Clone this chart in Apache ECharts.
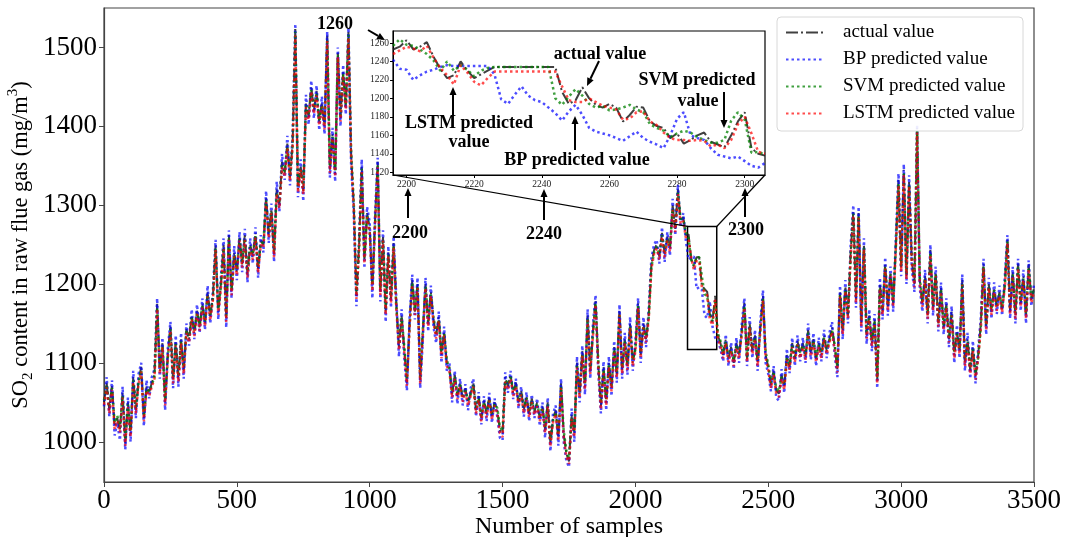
<!DOCTYPE html>
<html>
<head>
<meta charset="utf-8">
<script src="https://cdn.jsdelivr.net/npm/echarts@6/dist/echarts.min.js"></script>
<style>
  html, body { margin: 0; padding: 0; background: #fff; }
  #chart { width: 1067px; height: 537px; }
</style>
</head>
<body>
<div id="chart"></div>
<script>
// main chart: one value every 10 samples, 0..3500 (one row = 100 samples)
const sampleStep = 10;
const actualValue = [
  1050, 1075, 1040, 1072, 1020, 1030, 1015, 1062, 998, 1050,
  1010, 1082, 1040, 1078, 1095, 1030, 1070, 1062, 1075, 1085,
  1175, 1090, 1125, 1050, 1110, 1147, 1078, 1128, 1080, 1130,
  1090, 1143, 1130, 1160, 1138, 1167, 1145, 1175, 1150, 1190,
  1158, 1185, 1249, 1165, 1200, 1250, 1156, 1262, 1190, 1240,
  1215, 1260, 1225, 1262, 1212, 1250, 1235, 1265, 1218, 1255,
  1250, 1310, 1262, 1295, 1238, 1320, 1300, 1355, 1340, 1378,
  1335, 1380, 1525, 1320, 1350, 1318, 1430, 1412, 1450, 1420,
  1445, 1405, 1430, 1400, 1515, 1345, 1390, 1340, 1495, 1410,
  1470, 1425, 1520, 1365, 1300, 1185, 1250, 1350, 1230, 1290,
  1270, 1195, 1280, 1355, 1190, 1260, 1165, 1240, 1180, 1252,
  1175, 1120, 1160, 1118, 1075, 1150, 1205, 1165, 1200, 1078,
  1140, 1200, 1150, 1190, 1155, 1135, 1158, 1110, 1140, 1100,
  1095, 1060, 1085, 1058, 1075, 1055, 1068, 1050, 1062, 1075,
  1040, 1058, 1030, 1052, 1035, 1057, 1032, 1050, 1040, 1015,
  1010, 1082, 1070, 1085, 1062, 1075, 1050, 1065, 1040, 1058,
  1035, 1055, 1038, 1050, 1030, 1045, 1015, 1050, 998, 1030,
  1040, 1005, 1074, 1010, 985, 975, 1035, 1010, 1100, 1060,
  1115, 1070, 1160, 1090, 1140, 1180, 1100, 1045, 1095, 1050,
  1100, 1068, 1120, 1085, 1167, 1090, 1130, 1095, 1150, 1100,
  1120, 1176, 1110, 1150, 1130, 1160, 1225, 1243, 1250, 1235,
  1265, 1238, 1260, 1245, 1300, 1270, 1320, 1280, 1285, 1262,
  1263, 1232, 1222, 1234, 1234, 1198, 1194, 1190, 1162, 1153,
  1185, 1135, 1125, 1110, 1130, 1105, 1120, 1100, 1125, 1110,
  1140, 1176, 1105, 1150, 1115, 1135, 1100, 1145, 1185, 1110,
  1095, 1072, 1090, 1065, 1061, 1085, 1070, 1110, 1095, 1125,
  1105, 1128, 1110, 1125, 1108, 1142, 1112, 1130, 1105, 1125,
  1110, 1135, 1115, 1130, 1145, 1120, 1092, 1190, 1140, 1197,
  1160, 1240, 1293, 1180, 1290, 1150, 1250, 1135, 1160, 1125,
  1155, 1078, 1200, 1165, 1226, 1170, 1215, 1175, 1250, 1332,
  1220, 1345, 1210, 1330, 1230, 1200, 1398, 1205, 1175, 1210,
  1160, 1243, 1170, 1215, 1150, 1195, 1145, 1175, 1130, 1165,
  1110, 1140, 1115, 1205, 1100, 1130, 1090, 1120, 1083, 1110,
  1150, 1226, 1145, 1200, 1165, 1195, 1170, 1190, 1168, 1200,
  1258, 1165, 1215, 1160, 1226, 1175, 1210, 1160, 1225, 1180,
  1195
];
const bpValue = [
  1045, 1082, 1032, 1078, 1008, 1024, 1002, 1070, 990, 1056,
  1000, 1090, 1030, 1086, 1100, 1020, 1078, 1055, 1082, 1092,
  1182, 1080, 1132, 1040, 1118, 1152, 1068, 1135, 1070, 1138,
  1080, 1150, 1122, 1168, 1130, 1174, 1138, 1182, 1142, 1198,
  1150, 1192, 1256, 1155, 1208, 1258, 1145, 1268, 1182, 1248,
  1205, 1266, 1215, 1270, 1202, 1258, 1226, 1272, 1208, 1262,
  1240, 1318, 1252, 1302, 1228, 1330, 1292, 1365, 1332, 1388,
  1325, 1392, 1530, 1310, 1358, 1305, 1440, 1402, 1458, 1410,
  1452, 1395, 1438, 1390, 1520, 1335, 1398, 1330, 1500, 1400,
  1478, 1415, 1525, 1352, 1290, 1172, 1258, 1358, 1220, 1298,
  1278, 1182, 1288, 1360, 1178, 1268, 1152, 1248, 1170, 1260,
  1182, 1108, 1168, 1106, 1065, 1158, 1212, 1155, 1208, 1068,
  1130, 1208, 1140, 1198, 1146, 1125, 1165, 1100, 1146, 1090,
  1100, 1050, 1090, 1048, 1080, 1046, 1073, 1040, 1068, 1080,
  1032, 1063, 1022, 1058, 1026, 1062, 1024, 1055, 1032, 1005,
  1002, 1088, 1062, 1090, 1054, 1080, 1042, 1070, 1032, 1063,
  1026, 1060, 1030, 1055, 1020, 1050, 1005, 1056, 988, 1036,
  1046, 995, 1080, 1000, 976, 968, 1042, 1000, 1108, 1050,
  1122, 1060, 1168, 1080, 1148, 1186, 1090, 1036, 1102, 1040,
  1108, 1058, 1128, 1075, 1174, 1080, 1138, 1085, 1158, 1090,
  1128, 1182, 1100, 1158, 1120, 1168, 1232, 1250, 1256, 1226,
  1272, 1228, 1266, 1236, 1308, 1262, 1326, 1272, 1290, 1254,
  1231, 1234, 1235, 1194, 1196, 1193, 1160, 1157, 1178, 1146,
  1132, 1128, 1118, 1102, 1136, 1096, 1126, 1092, 1132, 1100,
  1148, 1182, 1096, 1158, 1106, 1142, 1090, 1152, 1192, 1100,
  1086, 1064, 1096, 1056, 1052, 1092, 1062, 1118, 1087, 1132,
  1096, 1135, 1102, 1132, 1100, 1150, 1104, 1138, 1096, 1132,
  1102, 1142, 1106, 1138, 1152, 1110, 1082, 1198, 1130, 1205,
  1150, 1250, 1300, 1170, 1298, 1140, 1258, 1124, 1168, 1115,
  1162, 1068, 1208, 1155, 1234, 1160, 1222, 1165, 1258, 1340,
  1210, 1352, 1200, 1338, 1220, 1190, 1402, 1195, 1165, 1218,
  1150, 1250, 1160, 1222, 1140, 1202, 1136, 1182, 1120, 1172,
  1100, 1148, 1106, 1212, 1090, 1138, 1080, 1128, 1074, 1118,
  1158, 1232, 1136, 1208, 1156, 1202, 1162, 1198, 1160, 1208,
  1262, 1156, 1222, 1150, 1232, 1166, 1218, 1150, 1230, 1172,
  1200
];
const svmValue = [
  1053, 1072, 1044, 1068, 1024, 1033, 1018, 1058, 1003, 1047,
  1014, 1078, 1044, 1075, 1091, 1034, 1067, 1064, 1072, 1082,
  1170, 1093, 1121, 1054, 1107, 1143, 1082, 1124, 1084, 1127,
  1094, 1140, 1133, 1157, 1141, 1163, 1148, 1172, 1153, 1186,
  1161, 1182, 1245, 1168, 1197, 1246, 1160, 1258, 1193, 1237,
  1218, 1257, 1228, 1258, 1216, 1247, 1238, 1261, 1222, 1252,
  1253, 1306, 1265, 1292, 1242, 1316, 1303, 1350, 1343, 1374,
  1338, 1376, 1520, 1324, 1347, 1322, 1426, 1415, 1446, 1423,
  1441, 1408, 1427, 1403, 1510, 1349, 1387, 1344, 1490, 1413,
  1466, 1428, 1516, 1369, 1304, 1190, 1246, 1346, 1234, 1287,
  1267, 1199, 1276, 1350, 1194, 1257, 1169, 1237, 1184, 1248,
  1172, 1124, 1157, 1121, 1080, 1147, 1201, 1168, 1197, 1082,
  1143, 1197, 1153, 1187, 1158, 1138, 1155, 1114, 1137, 1104,
  1092, 1063, 1082, 1061, 1072, 1058, 1065, 1053, 1060, 1072,
  1043, 1055, 1033, 1050, 1038, 1054, 1035, 1048, 1043, 1019,
  1014, 1078, 1073, 1082, 1065, 1072, 1053, 1062, 1044, 1055,
  1038, 1052, 1041, 1047, 1034, 1043, 1019, 1047, 1002, 1027,
  1037, 1009, 1070, 1014, 989, 980, 1031, 1014, 1096, 1063,
  1111, 1074, 1156, 1094, 1136, 1176, 1104, 1049, 1091, 1054,
  1097, 1071, 1117, 1088, 1163, 1094, 1127, 1098, 1146, 1104,
  1117, 1172, 1113, 1147, 1133, 1157, 1221, 1240, 1247, 1238,
  1262, 1241, 1257, 1248, 1296, 1273, 1316, 1283, 1282, 1265,
  1258, 1230, 1224, 1234, 1234, 1210, 1187, 1185, 1162, 1152,
  1177, 1138, 1128, 1113, 1127, 1108, 1117, 1104, 1121, 1113,
  1137, 1172, 1108, 1147, 1118, 1132, 1104, 1142, 1181, 1114,
  1098, 1075, 1087, 1068, 1064, 1082, 1073, 1106, 1098, 1122,
  1108, 1125, 1113, 1122, 1111, 1138, 1115, 1127, 1108, 1122,
  1113, 1132, 1118, 1127, 1141, 1123, 1096, 1186, 1143, 1193,
  1163, 1236, 1289, 1184, 1286, 1154, 1246, 1139, 1157, 1129,
  1152, 1082, 1196, 1168, 1222, 1173, 1212, 1178, 1246, 1327,
  1223, 1340, 1213, 1326, 1233, 1204, 1394, 1208, 1178, 1207,
  1163, 1239, 1173, 1212, 1153, 1192, 1148, 1172, 1133, 1162,
  1113, 1137, 1118, 1201, 1104, 1127, 1094, 1117, 1087, 1107,
  1147, 1222, 1148, 1197, 1168, 1192, 1173, 1187, 1171, 1197,
  1254, 1168, 1212, 1163, 1222, 1178, 1207, 1163, 1221, 1183,
  1193
];
const lstmValue = [
  1047, 1069, 1036, 1066, 1016, 1026, 1012, 1056, 995, 1044,
  1006, 1076, 1036, 1073, 1089, 1026, 1065, 1058, 1070, 1080,
  1168, 1086, 1120, 1046, 1105, 1141, 1074, 1122, 1076, 1125,
  1086, 1138, 1126, 1155, 1134, 1162, 1141, 1170, 1146, 1184,
  1154, 1180, 1243, 1161, 1195, 1244, 1152, 1256, 1186, 1235,
  1211, 1255, 1221, 1256, 1208, 1245, 1231, 1259, 1214, 1250,
  1246, 1304, 1258, 1290, 1234, 1314, 1296, 1348, 1336, 1372,
  1331, 1374, 1515, 1316, 1345, 1314, 1424, 1408, 1444, 1416,
  1439, 1401, 1425, 1396, 1508, 1341, 1385, 1336, 1488, 1406,
  1464, 1421, 1512, 1361, 1296, 1181, 1244, 1344, 1226, 1285,
  1265, 1191, 1274, 1348, 1186, 1255, 1161, 1235, 1176, 1246,
  1170, 1116, 1155, 1114, 1071, 1145, 1199, 1161, 1195, 1074,
  1136, 1195, 1146, 1185, 1151, 1131, 1153, 1106, 1135, 1096,
  1090, 1056, 1080, 1054, 1070, 1051, 1063, 1046, 1058, 1070,
  1036, 1053, 1026, 1048, 1031, 1052, 1028, 1046, 1036, 1011,
  1006, 1076, 1066, 1080, 1058, 1070, 1046, 1060, 1036, 1053,
  1031, 1050, 1034, 1045, 1026, 1041, 1011, 1045, 994, 1025,
  1035, 1001, 1068, 1006, 981, 972, 1029, 1006, 1094, 1056,
  1109, 1066, 1154, 1086, 1134, 1174, 1096, 1041, 1089, 1046,
  1095, 1064, 1115, 1081, 1161, 1086, 1125, 1091, 1144, 1096,
  1115, 1170, 1106, 1145, 1126, 1155, 1219, 1238, 1245, 1231,
  1260, 1234, 1255, 1241, 1294, 1266, 1314, 1276, 1280, 1258,
  1256, 1233, 1218, 1229, 1229, 1196, 1190, 1186, 1155, 1148,
  1180, 1131, 1121, 1106, 1125, 1101, 1115, 1096, 1119, 1106,
  1135, 1170, 1101, 1145, 1111, 1130, 1096, 1140, 1179, 1106,
  1091, 1068, 1085, 1061, 1057, 1080, 1066, 1104, 1091, 1120,
  1101, 1123, 1106, 1120, 1104, 1136, 1108, 1125, 1101, 1120,
  1106, 1130, 1111, 1125, 1139, 1116, 1088, 1184, 1136, 1191,
  1156, 1234, 1287, 1176, 1284, 1146, 1244, 1131, 1155, 1121,
  1150, 1074, 1194, 1161, 1220, 1166, 1210, 1171, 1244, 1325,
  1216, 1338, 1206, 1324, 1226, 1196, 1392, 1201, 1171, 1205,
  1156, 1237, 1166, 1210, 1146, 1190, 1141, 1170, 1126, 1160,
  1106, 1135, 1111, 1199, 1096, 1125, 1086, 1115, 1079, 1105,
  1145, 1220, 1141, 1195, 1161, 1190, 1166, 1185, 1164, 1195,
  1252, 1161, 1210, 1156, 1220, 1171, 1205, 1156, 1219, 1176,
  1190
];

// zoomed window: samples 2196..2306, every 2 samples
const insetStart = 2196;
const insetStep = 2;
const insetActual = [
  1253, 1256, 1263, 1253, 1256, 1261, 1245, 1232, 1222, 1225,
  1240, 1230, 1222, 1226, 1230, 1234, 1234, 1234, 1234, 1234,
  1234, 1234, 1234, 1234, 1234, 1207, 1194, 1198, 1212, 1200,
  1193, 1190, 1194, 1190, 1175, 1182, 1191, 1190, 1175, 1170,
  1168, 1157, 1162, 1151, 1155, 1160, 1163, 1153, 1150, 1147,
  1160, 1175, 1185, 1146, 1140, 1138
];
const insetBp = [
  1242, 1232, 1231, 1220, 1225, 1229, 1231, 1234, 1236, 1235,
  1235, 1235, 1235, 1235, 1235, 1226, 1199, 1194, 1204, 1213,
  1203, 1198, 1196, 1190, 1184, 1176, 1186, 1193, 1182, 1168,
  1164, 1162, 1160, 1157, 1154, 1159, 1164, 1157, 1153, 1150,
  1146, 1160, 1178, 1185, 1160, 1157, 1155, 1146, 1139, 1137,
  1135, 1137, 1132, 1127, 1125, 1130
];
const insetSvm = [
  1257, 1264, 1258, 1257, 1253, 1248, 1241, 1230, 1240, 1230,
  1236, 1231, 1224, 1230, 1233, 1234, 1234, 1234, 1234, 1234,
  1234, 1234, 1234, 1234, 1200, 1193, 1202, 1210, 1203, 1194,
  1190, 1192, 1187, 1188, 1190, 1193, 1188, 1185, 1172, 1168,
  1165, 1158, 1162, 1165, 1163, 1158, 1155, 1152, 1152, 1155,
  1176, 1185, 1177, 1141, 1142, 1139
];
const insetLstm = [
  1248, 1252, 1256, 1254, 1251, 1257, 1244, 1233, 1225, 1215,
  1236, 1228, 1218, 1214, 1222, 1229, 1229, 1229, 1229, 1229,
  1229, 1229, 1229, 1229, 1229, 1213, 1198, 1196, 1196, 1200,
  1196, 1192, 1190, 1188, 1177, 1178, 1185, 1186, 1175, 1171,
  1163, 1157, 1155, 1155, 1154, 1155, 1154, 1148, 1150, 1146,
  1155, 1172, 1180, 1162, 1142, 1140
];

const seriesNames = ['actual value', 'BP predicted value', 'SVM predicted value', 'LSTM predicted value'];
const yTicks = [1000, 1100, 1200, 1300, 1400, 1500];
const insetXTicks = [2200, 2220, 2240, 2260, 2280, 2300];
const insetYTicks = [1120, 1140, 1160, 1180, 1200, 1220, 1240, 1260];
const insetXMin = 2196, insetXMax = 2306, insetYMin = 1117, insetYMax = 1273;

const serif = "'Liberation Serif', 'Times New Roman', serif";
const looks = [
  { color: 'rgba(30,30,30,0.85)', dash: [12, 3, 2, 3] },
  { color: 'rgba(0,0,255,0.7)', dash: [2.5, 3] },
  { color: 'rgba(0,128,0,0.75)', dash: [2.5, 3] },
  { color: 'rgba(255,0,0,0.7)', dash: [2.5, 3] }
];
const plain = v => String(v);

function toPairs(values, start, gap) {
  return values.map((v, i) => [start + i * gap, v]);
}

function lineSeries(k, values, start, gap, axis) {
  return {
    name: seriesNames[k],
    type: 'line',
    xAxisIndex: axis,
    yAxisIndex: axis,
    data: toPairs(values, start, gap),
    symbol: 'none',
    silent: true,
    lineStyle: { color: looks[k].color, width: k === 0 ? 2 : 2.5, type: looks[k].dash, cap: 'butt' },
    itemStyle: { color: looks[k].color }
  };
}

const mainSeries = [actualValue, bpValue, svmValue, lstmValue].map((v, k) => lineSeries(k, v, 0, sampleStep, 0));
mainSeries[0].markArea = {
  silent: true,
  itemStyle: { color: 'rgba(0,0,0,0)', borderColor: '#000', borderWidth: 1.5 },
  data: [[{ xAxis: insetXMin, yAxis: insetYMin }, { xAxis: insetXMax, yAxis: insetYMax }]]
};
const insetSeries = [insetActual, insetBp, insetSvm, insetLstm].map((v, k) => lineSeries(k, v, insetStart, insetStep, 1));

const axisColor = '#444';
const option = {
  animation: false,
  backgroundColor: '#fff',
  grid: [
    { left: 104, right: 33, top: 8, bottom: 55, outerBoundsMode: 'none', show: true, borderColor: axisColor, borderWidth: 1.2 },
    { left: 393, top: 31, width: 372, height: 144, outerBoundsMode: 'none', show: true, backgroundColor: '#fff', borderColor: '#000', borderWidth: 1.2 }
  ],
  legend: {
    data: seriesNames,
    orient: 'vertical',
    left: 777,
    top: 17,
    padding: [6, 8, 8, 8],
    itemWidth: 38,
    itemHeight: 17,
    itemGap: 8,
    selectedMode: false,
    itemStyle: { opacity: 0 },
    backgroundColor: 'rgba(255,255,255,0.9)',
    borderColor: '#d8d8d8',
    borderWidth: 1,
    borderRadius: 4,
    textStyle: { fontFamily: serif, fontSize: 19, color: '#000', padding: [0, 0, 0, 14] }
  },
  xAxis: [
    {
      gridIndex: 0, type: 'value', min: 0, max: 3500, interval: 500,
      axisLine: { lineStyle: { color: axisColor, width: 1.2 } },
      axisTick: { length: 5, lineStyle: { color: axisColor } },
      axisLabel: { formatter: plain, fontFamily: serif, fontSize: 27, color: '#000', margin: 5 },
      splitLine: { show: false },
      name: 'Number of samples', nameLocation: 'middle', nameGap: 33, nameMoveOverlap: false,
      nameTextStyle: { fontFamily: serif, fontSize: 24, color: '#000' }
    },
    {
      gridIndex: 1, type: 'value', min: insetXMin, max: insetXMax,
      axisLine: { lineStyle: { color: '#000' } },
      axisTick: { length: 3, customValues: insetXTicks, lineStyle: { color: '#000' } },
      axisLabel: { customValues: insetXTicks, formatter: plain, fontFamily: serif, fontSize: 9.5, color: '#222', margin: 4 },
      splitLine: { show: false }
    }
  ],
  yAxis: [
    {
      gridIndex: 0, type: 'value', min: 949, max: 1550,
      axisLine: { show: true, lineStyle: { color: axisColor, width: 1.2 } },
      axisTick: { show: true, length: 5, customValues: yTicks, lineStyle: { color: axisColor } },
      axisLabel: { customValues: yTicks, formatter: plain, fontFamily: serif, fontSize: 27, color: '#000', margin: 7 },
      splitLine: { show: false },
      name: 'SO{sub|2} content in raw flue gas (mg/m{sup|3})',
      nameLocation: 'middle', nameRotate: 90, nameGap: 68, nameMoveOverlap: false,
      nameTextStyle: {
        fontFamily: serif, fontSize: 22.5, color: '#000', lineHeight: 30,
        rich: {
          sub: { fontFamily: serif, fontSize: 15, color: '#000', lineHeight: 14, verticalAlign: 'bottom' },
          sup: { fontFamily: serif, fontSize: 15, color: '#000', lineHeight: 14, verticalAlign: 'top' }
        }
      }
    },
    {
      gridIndex: 1, type: 'value', min: insetYMin, max: insetYMax,
      axisLine: { show: true, lineStyle: { color: '#000' } },
      axisTick: { show: true, length: 3, customValues: insetYTicks, lineStyle: { color: '#000' } },
      axisLabel: { customValues: insetYTicks, formatter: plain, fontFamily: serif, fontSize: 9.5, color: '#222', margin: 4 },
      splitLine: { show: false }
    }
  ],
  series: mainSeries.concat(insetSeries)
};

const chart = echarts.init(document.getElementById('chart'));
chart.setOption(option);

// connector lines, callouts and arrows
function arrow(x1, y1, x2, y2) {
  const ang = Math.atan2(y2 - y1, x2 - x1), len = 8, half = 3.5;
  const bx = x2 - len * Math.cos(ang), by = y2 - len * Math.sin(ang);
  return [
    { type: 'line', z: 100, shape: { x1: x1, y1: y1, x2: bx, y2: by }, style: { stroke: '#000', lineWidth: 2 } },
    { type: 'polygon', z: 100, shape: { points: [[x2, y2], [bx - half * Math.sin(ang), by + half * Math.cos(ang)], [bx + half * Math.sin(ang), by - half * Math.cos(ang)]] }, style: { fill: '#000' } }
  ];
}
function note(text, x, y) {
  return { type: 'text', z: 100, x: x, y: y, style: { text: text, font: 'bold 18px ' + serif, fill: '#000', textAlign: 'center', textVerticalAlign: 'middle' } };
}

const boxTL = chart.convertToPixel({ gridIndex: 0 }, [insetXMin, insetYMax]);
const boxTR = chart.convertToPixel({ gridIndex: 0 }, [insetXMax, insetYMax]);
const insBL = chart.convertToPixel({ gridIndex: 1 }, [insetXMin, insetYMin]);
const insBR = chart.convertToPixel({ gridIndex: 1 }, [insetXMax, insetYMin]);

let marks = [
  { type: 'line', z: 90, shape: { x1: boxTL[0], y1: boxTL[1], x2: insBL[0], y2: insBL[1] }, style: { stroke: '#000', lineWidth: 1.2 } },
  { type: 'line', z: 90, shape: { x1: boxTR[0], y1: boxTR[1], x2: insBR[0], y2: insBR[1] }, style: { stroke: '#000', lineWidth: 1.2 } },
  note('1260', 335, 24),
  note('2200', 410, 233),
  note('2240', 544, 234),
  note('2300', 746, 230),
  note('actual value', 600, 54),
  note('SVM predicted', 697, 80),
  note('value', 698, 101),
  note('LSTM predicted', 469, 123),
  note('value', 469, 142),
  note('BP predicted value', 577, 160)
];
marks = marks
  .concat(arrow(368, 30, 385, 40))
  .concat(arrow(408, 218, 408, 188))
  .concat(arrow(544, 220, 544, 189))
  .concat(arrow(745, 217, 745, 188))
  .concat(arrow(599, 61, 587, 86))
  .concat(arrow(724, 92, 724, 128))
  .concat(arrow(453, 115, 453, 87))
  .concat(arrow(575, 150, 575, 116));

chart.setOption({ graphic: { elements: marks } });
</script>
</body>
</html>
